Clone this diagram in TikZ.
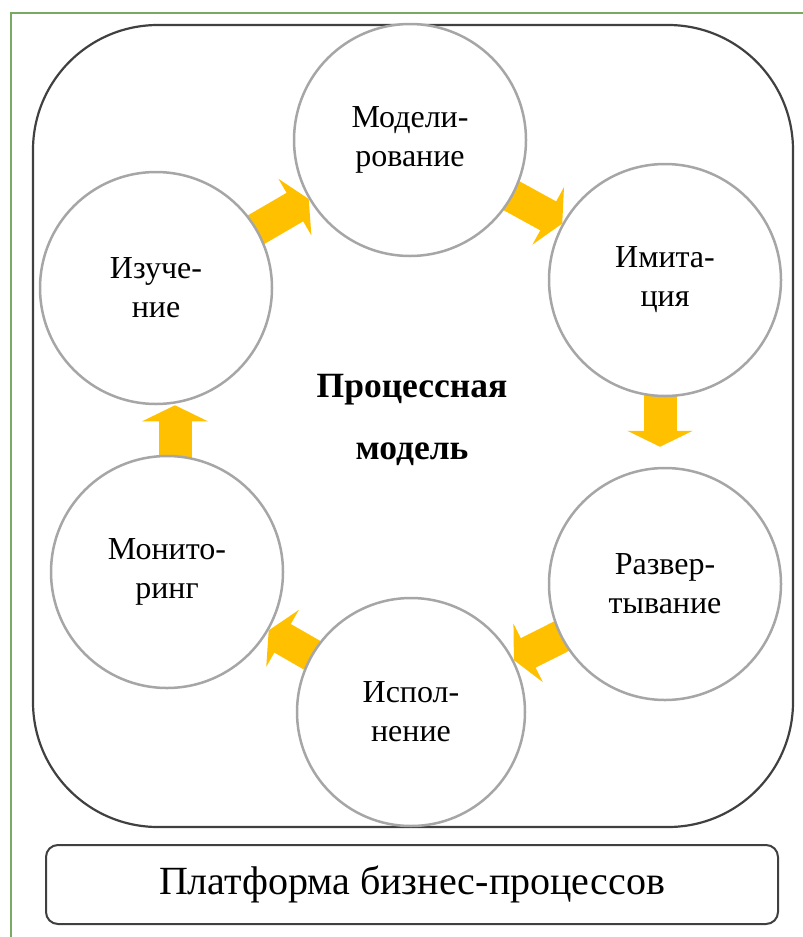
\documentclass[tikz,border=0pt]{standalone}
\usepackage{fontspec}
\setmainfont{Liberation Serif}
\usetikzlibrary{arrows.meta, backgrounds}
\definecolor{ringgray}{HTML}{A6A6A6}
\definecolor{edgedark}{HTML}{404040}
\definecolor{framegreen}{HTML}{7AAA62}
\definecolor{flowyellow}{HTML}{FFC000}

\begin{document}
\begin{tikzpicture}[x=1pt, y=-1pt,
    stage/.style={circle, draw=ringgray, line width=2.5pt, fill=white, minimum size=232pt,
                  inner sep=0pt, align=center, font=\fontsize{32}{39}\selectfont},
    flow/.style={line width=33pt, color=flowyellow, shorten <=-6pt,
                 -{Triangle[length=16pt, width=65pt]}}
  ]
    \useasboundingbox (0,0) rectangle (803,937);
    \draw[framegreen, line width=2.5pt] (11,937) -- (11,13) -- (803,13);
    \draw[edgedark, line width=2.2pt, rounded corners=125pt] (33,25) rectangle (793,827);

    \node[stage] (model) at (410,140) {Модели-\\рование};
    \node[stage] (imit)  at (665,280) {Имита-\\ция};
    \node[stage] (razv)  at (665,584) {Развер-\\тывание};
    \node[stage, minimum size=228pt] (ispol) at (411,712) {Испол-\\нение};
    \node[stage] (monit) at (167,572) {Монито-\\ринг};
    \node[stage] (izuch) at (156,288) {Изуче-\\ние};

    \node[font=\fontsize{35.5}{62}\selectfont\bfseries, align=center]
      (core) at (412,420) {Процессная\\модель};

    \node[draw=edgedark, line width=2pt, rounded corners=12pt, minimum width=732pt,
          minimum height=79pt, font=\fontsize{40}{48}\selectfont]
      (platform) at (412,884.5) {Платформа бизнес-процессов};

    % cycle arrows sit under the circles
    \begin{pgfonlayer}{background}
      \draw[flow] (izuch) -- (model);
      \draw[flow] (model) -- (imit);
      \draw[flow, shorten >=20pt] ([xshift=-5pt]imit.south) -- ([xshift=-5pt]imit.south |- razv.north);
      \draw[flow] (razv) -- (ispol);
      \draw[flow] (ispol) -- (monit);
      \draw[flow] ([xshift=8pt]monit.north) -- ([xshift=8pt]monit.north |- izuch.south);
    \end{pgfonlayer}
  \end{tikzpicture}
\end{document}
